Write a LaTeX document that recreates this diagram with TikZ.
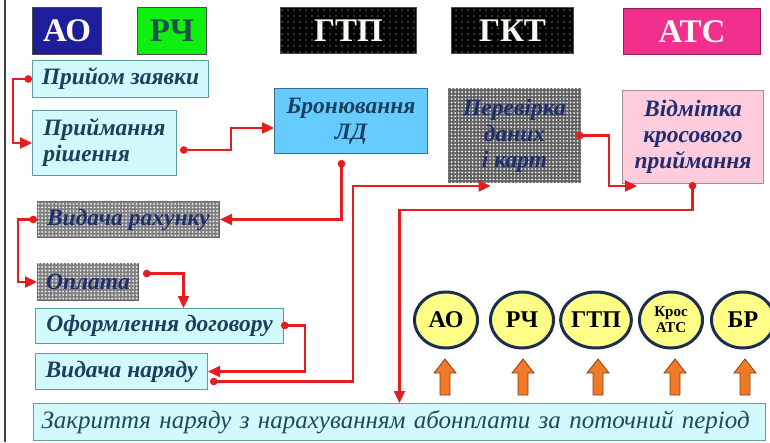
\documentclass[tikz,border=0pt]{standalone}
\usepackage{fontspec}
\setmainfont{Liberation Serif}
\usetikzlibrary{shapes.geometric,patterns.meta,arrows.meta}
\definecolor{lnred}{HTML}{E41E1E}
\definecolor{cyanbox}{HTML}{D2FAFC}
\definecolor{cyanedge}{HTML}{5E9C9E}
\definecolor{txt}{HTML}{1B3F5C}
\definecolor{ztxt}{HTML}{1B4A5E}
\definecolor{navytxt}{HTML}{1E2E6E}
\definecolor{navyb}{HTML}{1E1E9C}
\definecolor{brgreen}{HTML}{10F010}
\definecolor{rchtxt}{HTML}{1F4F4F}
\definecolor{magen}{HTML}{F0308C}
\definecolor{skyb}{HTML}{66CCFF}
\definecolor{skyedge}{HTML}{3A6E8C}
\definecolor{pinkb}{HTML}{FFCCDD}
\definecolor{pinkedge}{HTML}{A09098}
\definecolor{yel}{HTML}{FFFF88}
\definecolor{circedge}{HTML}{1C2E50}
\definecolor{orng}{HTML}{F07A2A}
\definecolor{orngedge}{HTML}{8A4010}
\definecolor{headtxt}{HTML}{FFF8F0}
\tikzset{
  base/.style={inner sep=0pt, anchor=north west, align=center, line width=1pt},
  box/.style={base, draw=cyanedge, fill=cyanbox, text=txt,
    font=\bfseries\itshape\fontsize{23.5}{26}\selectfont},
  head/.style={base, draw=black!70, text=headtxt,
    font=\bfseries\fontsize{33}{33}\selectfont},
  dotted head/.style={head, fill=black,
    postaction={pattern={Dots[distance=6pt,radius=0.7pt]}, pattern color=white!80!gray}},
  checker/.style={base, draw=black!60, fill=black!50, text=navytxt,
    font=\bfseries\itshape\fontsize{23.5}{26}\selectfont,
    postaction={pattern={Dots[distance=3.5pt,radius=1pt]}, pattern color=white!90!gray}},
  circ/.style={ellipse, draw=circedge, line width=3pt, fill=yel,
    minimum width=63pt, minimum height=56pt, inner sep=0pt,
    font=\bfseries\fontsize{24}{24}\selectfont, align=center},
  conn/.style={draw=lnred, line width=2.3pt,
    {Circle[length=7.5pt]}-{Triangle[length=12pt,width=11pt]}},
  oarrow/.style={fill=orng, draw=orngedge, line width=0.8pt}
}
\begin{document}
\begin{tikzpicture}[x=1pt,y=-1pt]
\useasboundingbox (0,0) rectangle (770,442);
\fill[white] (0,0) rectangle (770,442);
\draw[black!75, line width=1.5pt] (5,0) -- (5,442);

% header
\node[head, fill=navyb, minimum width=69pt, minimum height=47pt] (hAO) at (32,7) {АО};
\node[head, fill=brgreen, text=rchtxt, minimum width=69pt, minimum height=47pt] (hRC) at (137,7) {РЧ};
\node[dotted head, minimum width=136pt, minimum height=46pt] (hGTP) at (280,7) {ГТП};
\node[dotted head, minimum width=122pt, minimum height=46pt] (hGKT) at (451,7) {ГКТ};
\node[head, fill=magen, draw=magen!60!black, minimum width=137pt, minimum height=46pt] (hATS) at (623,8) {АТС};

% process boxes
\node[box, minimum width=176pt, minimum height=37pt] (pz) at (32,60) {Прийом заявки};
\node[box, align=left, minimum width=144pt, minimum height=65pt] (pr) at (32,110) {Приймання\\рішення};
\node[box, fill=skyb, draw=skyedge, minimum width=153pt, minimum height=65pt] (br) at (274,88) {Бронювання\\ЛД};
\node[checker, fill=black!62, minimum width=132pt, minimum height=94pt] (pv) at (448,88) {Перевірка\\даних\\і карт};
\node[box, fill=pinkb, draw=pinkedge, text=navytxt, minimum width=141pt, minimum height=93pt] (vm) at (622,90) {Відмітка\\кросового\\приймання};
\node[checker, minimum width=182pt, minimum height=36pt] (vr) at (37,201) {Видача рахунку};
\node[checker, minimum width=101pt, minimum height=37pt] (op) at (37,263) {Оплата};
\node[box, minimum width=248pt, minimum height=35pt] (of) at (35,308) {Оформлення договору};
\node[box, minimum width=172pt, minimum height=36pt] (vn) at (35,353) {Видача наряду};
\node[box, text=ztxt, font=\itshape\fontsize{25}{27}\selectfont, text width=716pt, align=left, minimum width=732pt, minimum height=37pt] (zk) at (33,403) {Закриття наряду з нарахуванням абонплати за поточний період};

% circles
\node[circ] (cAO) at (446,320) {АО};
\node[circ] (cRC) at (522,320) {РЧ};
\node[circ] (cGTP) at (596,320) {ГТП};
\node[circ, font=\bfseries\fontsize{15}{16}\selectfont] (cKA) at (671,320) {Крос\\АТС};
\node[circ] (cBR) at (743,320) {БР};

% orange block arrows
\foreach \xx in {445,523,598,675,745}{
  \draw[oarrow] (\xx-5,395) -- (\xx-5,373) -- (\xx-11,373) -- (\xx,359) -- (\xx+11,373) -- (\xx+5,373) -- (\xx+5,395) -- cycle;
}

% connectors
\draw[conn] (pz.west) -- ++(-19,0) |- (pr.west);
\draw[conn] ([shift={(3,7)}]pr.east) -- ++(51,0) |- ([shift={(0,7)}]br.west);
\draw[conn] ([shift={(-9.5,6)}]br.south) |- (vr.east);
\draw[conn] (vr.west) -- ++(-19,0) |- (op.west);
\draw[conn] ([shift={(4,-8.5)}]op.east) -| ([xshift=24pt]of.north);
\draw[conn] ([shift={(-3,-0.5)}]of.east) -- ++(24,0) |- (vn.east);
\draw[conn] ([shift={(2,10)}]vn.east) -- ++(143,0) |- ([shift={(-24,3)}]pv.south);
\draw[conn] ([shift={(-5,0)}]pv.east) -- ++(33,0) |- ([shift={(15,2)}]vm.south west);
\draw[conn] ([shift={(-0.5,-2)}]vm.south) -- ++(0,28) -| (zk.north);
\end{tikzpicture}
\end{document}
